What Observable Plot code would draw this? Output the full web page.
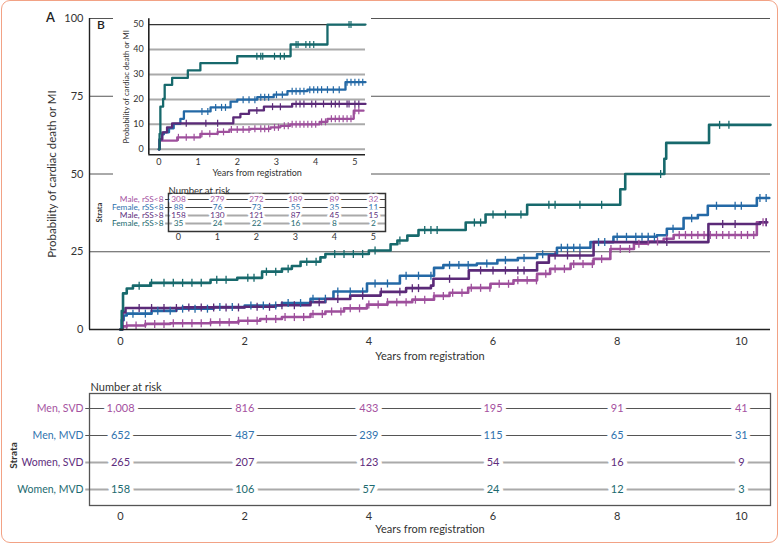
<!DOCTYPE html>
<html><head><meta charset="utf-8">
<script src="https://cdn.jsdelivr.net/npm/d3@7"></script>
<script src="https://cdn.jsdelivr.net/npm/@observablehq/plot@0.6"></script>
<style>
body{margin:0;background:#fff;}
#wrap{position:relative;width:780px;height:546px;overflow:hidden;font-family:Lato,"Open Sans",sans-serif;color:#333;background:#fff;}
.lab{position:absolute;font-family:Lato,sans-serif;color:#333;}
</style></head><body><div id="wrap"></div>
<script>
// ---------- DATA ----------
const mainStrata = ["Men, SVD", "Men, MVD", "Women, SVD", "Women, MVD"];
const insetStrata = ["Male, rSS<8", "Female, rSS<8", "Male, rSS>8", "Female, rSS>8"];
const seriesColors = ["#9e4f9c", "#2469a6", "#5b2a78", "#17696c"];
const labelColors = ["#a5529f", "#2f72ae", "#5e2d7d", "#1c6a70"];

// Panel A: cumulative probability (%) steps, [years, percent]
const mainMenSVD = [[0,0],[0.03,1.0],[0.1,1.3],[0.4,1.8],[0.8,2.0],[1.45,2.3],[1.9,2.8],[2.25,3.4],[2.6,4.0],[3.06,5.0],[3.3,5.8],[3.6,6.8],[3.97,8.0],[4.3,8.8],[4.7,9.6],[5.05,10.8],[5.3,11.8],[5.6,13.4],[5.96,14.7],[6.33,15.8],[6.71,17.9],[6.92,19.5],[7.25,21.1],[7.62,22.7],[7.89,25.9],[8.27,27.6],[8.5,28.3],[8.75,29.2],[8.91,30.4],[10.25,34.5],[10.42,34.5]];
const mainMenMVD = [[0,0],[0.02,3.0],[0.05,4.5],[0.1,5.1],[0.5,6.0],[0.9,6.7],[1.5,7.2],[2.0,7.7],[2.6,8.5],[3.06,9.9],[3.43,12.2],[3.97,14.8],[4.5,17.3],[5.05,19.8],[5.2,20.7],[5.74,21.2],[6.07,22.3],[6.4,23.0],[6.71,24.2],[7.03,26.3],[7.57,28.1],[7.94,29.8],[8.64,30.3],[8.8,32.4],[9.07,35.8],[9.3,36.8],[9.46,39.8],[10.25,42.3],[10.45,42.3]];
const mainWomenSVD = [[0,0],[0.03,5.5],[0.08,6.9],[1.0,7.1],[2.0,7.3],[2.5,7.8],[3.06,8.8],[3.3,9.8],[3.7,10.9],[4.19,12.1],[4.6,13.3],[5.0,14.1],[5.04,16.3],[5.61,19.0],[6.71,21.5],[6.9,23.8],[7.62,28.1],[9.47,33.9],[10.3,34.5],[10.41,34.5]];
const mainWomenMVD = [[0,0],[0.02,6.0],[0.04,11.6],[0.1,13.2],[0.2,14.1],[0.48,15.0],[1.45,16.0],[1.88,16.6],[2.28,18.6],[2.6,19.5],[2.76,20.4],[2.9,21.8],[3.22,23.2],[3.3,24.3],[4.0,25.4],[4.35,27.4],[4.46,28.6],[4.62,30.2],[4.8,32.0],[5.56,34.4],[5.88,37.0],[6.55,40.1],[8.05,45.1],[8.13,50.0],[8.76,54.9],[8.79,60.0],[9.48,65.8],[10.47,65.8]];

// censoring times (years)
const censorMenSVD = [0.1,0.25,0.4,0.55,0.7,0.85,1.0,1.15,1.3,1.45,1.6,1.75,1.9,2.05,2.2,2.35,2.5,2.65,2.8,2.95,3.1,3.25,3.4,3.55,3.7,3.85,4.0,4.15,4.3,4.45,4.6,4.75,4.9,5.05,5.2,5.35,5.5,5.65,5.8,5.95,6.1,6.25,6.4,6.55,6.7,6.85,7.0,7.15,7.3,7.45,7.6,7.75,7.9,8.05,8.2,8.35,8.5,8.65,8.8,9.0,9.1,9.2,9.3,9.4,9.5,9.6,9.7,9.8,9.9,10.0,10.1,10.2,10.35,10.4];
const censorMenMVD = [0.2,0.4,0.6,0.8,1.0,1.2,1.4,1.6,1.8,2.1,2.3,2.5,2.7,2.9,3.1,3.3,3.5,3.7,3.9,4.1,4.3,4.6,4.8,5.0,5.3,5.45,5.6,5.9,6.2,6.5,6.8,7.1,7.2,7.3,7.4,7.7,7.8,8.0,8.15,8.3,8.4,8.5,8.6,8.9,9.2,9.6,9.9,10.0,10.3,10.4];
const censorWomenSVD = [0.3,0.5,0.7,0.9,1.1,1.3,1.5,1.7,1.9,2.2,2.4,2.6,2.8,3.2,3.5,3.9,4.2,4.5,4.7,4.8,5.3,5.8,6.0,6.2,6.4,6.5,7.0,7.2,7.4,8.8,9.7,9.9,10.4];
const censorWomenMVD = [0.3,0.5,0.7,0.85,1.0,1.15,1.3,1.55,1.7,2.05,2.15,2.35,2.5,2.7,3.0,3.15,3.45,3.6,3.75,3.9,4.1,4.5,4.9,5.0,5.1,5.7,5.8,6.0,6.2,6.45,6.9,7.0,7.4,7.75,8.7,9.65,9.8];

// Panel B (inset)
const insetMaleLow = [[0,0],[0.02,3.5],[0.47,4.8],[1.06,6.2],[1.5,7.0],[1.8,7.9],[2.34,8.2],[2.85,8.8],[3.1,9.4],[3.35,10.0],[4.1,11.0],[4.3,12.2],[4.97,15.5],[5.22,15.5]];
const insetFemaleLow = [[0,0],[0.02,4.0],[0.08,6.0],[0.13,6.8],[0.26,8.4],[0.38,10.2],[0.55,12.2],[0.64,15.2],[1.32,16.8],[1.83,19.1],[2.0,19.9],[2.51,20.9],[2.93,21.9],[3.28,23.3],[3.79,23.9],[4.76,26.9],[5.27,26.9]];
const insetMaleHigh = [[0,0],[0.02,4.0],[0.09,6.8],[0.21,8.8],[0.34,10.4],[1.9,12.8],[2.08,14.2],[2.3,15.6],[2.68,17.1],[3.4,18.2],[5.27,18.2]];
const insetFemaleHigh = [[0,0],[0.02,6.2],[0.04,17.1],[0.11,20.2],[0.15,25.8],[0.34,28.6],[0.74,31.6],[1.06,34.5],[2.0,37.3],[3.36,42.0],[4.3,50.0],[5.27,50.0]];

const insetCensorMaleLow = [0.5,0.7,0.9,1.1,1.3,1.5,1.65,1.85,2.0,2.15,2.3,2.45,2.6,2.7,2.8,2.95,3.05,3.2,3.3,3.4,3.5,3.6,3.7,3.8,3.9,4.0,4.15,4.25,4.4,4.5,4.6,4.7,4.8,4.9,5.0,5.1];
const insetCensorFemaleLow = [1.1,1.25,1.45,1.6,1.7,2.15,2.3,2.45,2.6,2.7,2.8,3.0,3.15,3.4,3.5,3.6,3.7,3.85,3.95,4.05,4.15,4.3,4.45,4.6,4.8,4.9,5.0,5.1,5.2];
const insetCensorMaleHigh = [0.7,1.2,1.5,2.5,2.9,3.1,3.5,3.6,3.7,3.9,4.0,4.2,4.4,4.5,4.6,4.8,4.85,5.0,5.1];
const insetCensorFemaleHigh = [2.5,2.6,2.65,2.95,3.1,3.2,3.5,3.55,3.75,3.85,3.95,4.85,4.9];

// Number at risk
const mainRiskYears = [0, 2, 4, 6, 8, 10];
const riskMenSVD = ["1,008", "816", "433", "195", "91", "41"];
const riskMenMVD = ["652", "487", "239", "115", "65", "31"];
const riskWomenSVD = ["265", "207", "123", "54", "16", "9"];
const riskWomenMVD = ["158", "106", "57", "24", "12", "3"];
const insetRiskYears = [0, 1, 2, 3, 4, 5];
const riskMaleLow = ["308", "279", "272", "189", "89", "32"];
const riskFemaleLow = ["88", "76", "73", "55", "35", "11"];
const riskMaleHigh = ["158", "130", "121", "87", "45", "15"];
const riskFemaleHigh = ["35", "24", "22", "16", "8", "2"];

// ---------- BUILD ----------
function stepAt(pts, t) { let v = 0; for (const [x, y] of pts) if (x <= t) v = y; return v; }
function lines(names, series) { return series.flatMap((pts, i) => pts.map(([t, p]) => ({s: names[i], t, p}))); }
function censors(names, series, times) { return times.flatMap((ts, i) => ts.map(t => ({s: names[i], t, p: stepAt(series[i], t)}))); }
function risk(names, years, rows) { return rows.flatMap((r, i) => r.map((n, j) => ({s: names[i], t: years[j], n}))); }

const mainSeries = [mainMenSVD, mainMenMVD, mainWomenSVD, mainWomenMVD];
const insetSeries = [insetMaleLow, insetFemaleLow, insetMaleHigh, insetFemaleHigh];
const mainLineData = lines(mainStrata, mainSeries);
const mainCensorData = censors(mainStrata, mainSeries, [censorMenSVD, censorMenMVD, censorWomenSVD, censorWomenMVD]);
const insetLineData = lines(insetStrata, insetSeries);
const insetCensorData = censors(insetStrata, insetSeries, [insetCensorMaleLow, insetCensorFemaleLow, insetCensorMaleHigh, insetCensorFemaleHigh]);
const mainRiskData = risk(mainStrata, mainRiskYears, [riskMenSVD, riskMenMVD, riskWomenSVD, riskWomenMVD]);
const insetRiskData = risk(insetStrata, insetRiskYears, [riskMaleLow, riskFemaleLow, riskMaleHigh, riskFemaleHigh]);

const vbar = {draw(ctx, size) { const r = Math.sqrt(size / Math.PI); ctx.moveTo(0, -r); ctx.lineTo(0, r); }};
const baseStyle = (fs) => ({fontFamily: "Lato, sans-serif", fontSize: fs, color: "#333", background: "transparent", overflow: "visible"});

const wrap = document.getElementById("wrap");
function place(node, left, top) { node.style.position = "absolute"; node.style.left = left + "px"; node.style.top = top + "px"; wrap.appendChild(node); return node; }
function label(txt, left, top, css) { const d = document.createElement("div"); d.className = "lab"; d.textContent = txt; Object.assign(d.style, css || {}); place(d, left, top); return d; }

const mainX = [-0.5, 10.47];

// Panel A plot
const mainPlot = Plot.plot({
  width: 780, height: 370, marginTop: 18, marginBottom: 41, marginLeft: 89, marginRight: 10,
  style: baseStyle("11px"),
  x: {domain: mainX, ticks: mainRiskYears, tickFormat: "d", tickSize: 0, tickPadding: 8, label: null},
  y: {domain: [0, 100], ticks: [0, 25, 50, 75, 100], tickFormat: "d", tickSize: 0, tickPadding: 6, label: null},
  color: {domain: mainStrata, range: seriesColors},
  marks: [
    Plot.ruleY([25, 50, 75, 100], {stroke: "#555", strokeWidth: 1}),
    Plot.line(mainLineData, {x: "t", y: "p", z: "s", stroke: "s", curve: "step-after", strokeWidth: 2.6}),
    Plot.dot(mainCensorData, {x: "t", y: "p", stroke: "s", fill: "none", symbol: vbar, r: 4, strokeWidth: 1.3}),
    Plot.ruleX([mainX[0]], {stroke: "#222", strokeWidth: 1.4}),
    Plot.ruleY([0], {stroke: "#222", strokeWidth: 1.6}),
    Plot.text(["Years from registration"], {text: d => d, frameAnchor: "bottom", dy: 30, fontSize: 11, fill: "#333"}),
    Plot.text(["Probability of cardiac death or MI"], {text: d => d, frameAnchor: "left", textAnchor: "middle", dx: -37, rotate: -90, fontSize: 11.5, fill: "#333"})
  ]
});
place(mainPlot, 0, 0);

// white backing for inset
const bg = document.createElement("div");
Object.assign(bg.style, {width: "258px", height: "178px", background: "#fff"});
place(bg, 113, 8);

// Panel B inset plot
const insetX = [-0.255, 5.27];
const insetY = [-2.2, 52.3];
const insetPlot = Plot.plot({
  width: 280, height: 185, marginTop: 18.3, marginBottom: 30.7, marginLeft: 48.3, marginRight: 15,
  style: baseStyle("9px"),
  x: {domain: insetX, ticks: insetRiskYears, tickFormat: "d", tickSize: 0, tickPadding: 4, label: null},
  y: {domain: insetY, ticks: [0, 10, 20, 30, 40, 50], tickFormat: "d", tickSize: 0, tickPadding: 5, label: null},
  color: {domain: insetStrata, range: seriesColors},
  marks: [
    Plot.ruleY([0, 10, 20, 30, 40], {stroke: "#aaa", strokeWidth: 2}),
    Plot.ruleY([50], {stroke: "#333", strokeWidth: 1.2}),
    Plot.line(insetLineData, {x: "t", y: "p", z: "s", stroke: "s", curve: "step-after", strokeWidth: 2.3}),
    Plot.dot(insetCensorData, {x: "t", y: "p", stroke: "s", fill: "none", symbol: vbar, r: 3.5, strokeWidth: 1.2}),
    Plot.ruleX([insetX[0]], {stroke: "#222", strokeWidth: 1.6}),
    Plot.ruleY([insetY[0]], {stroke: "#222", strokeWidth: 1.6}),
    Plot.text(["Years from registration"], {text: d => d, frameAnchor: "bottom", dy: 21, fontSize: 9, fill: "#333"}),
    Plot.text(["Probability of cardiac death or MI"], {text: d => d, frameAnchor: "left", textAnchor: "middle", dx: -22, rotate: -90, fontSize: 7.8, fill: "#333"})
  ]
});
place(insetPlot, 100, 0);

// Inset number-at-risk table
const insetTX = [-0.256, 5.31];
const insetTable = Plot.plot({
  width: 400, height: 70, marginTop: 17, marginBottom: 15, marginLeft: 168, marginRight: 15,
  style: baseStyle("9px"),
  x: {domain: insetTX, ticks: insetRiskYears, tickFormat: "d", tickSize: 0, tickPadding: 2.5, label: null},
  y: {type: "point", domain: insetStrata, range: [22.3, 48], padding: 0, axis: null},
  color: {domain: insetStrata, range: labelColors},
  marks: [
    Plot.ruleY(insetStrata.slice(0, 2), {y: d => d, x1: -0.33, x2: insetTX[1], stroke: "#444", strokeWidth: 1}),
    Plot.ruleY(insetStrata.slice(2), {y: d => d, x1: -0.33, x2: insetTX[1], stroke: "#aaa", strokeWidth: 2}),
    Plot.frame({stroke: "#333", strokeWidth: 1.5}),
    Plot.text(insetRiskData, {x: "t", y: "s", text: "n", fill: "s", stroke: "white", strokeWidth: 5, paintOrder: "stroke", fontSize: 8.3}),
    Plot.text(insetStrata, {y: d => d, text: d => d, fill: d => d, frameAnchor: "left", textAnchor: "end", dx: -5, fontSize: 8.3}),
    Plot.text(["Number at risk"], {text: d => d, frameAnchor: "top-left", textAnchor: "start", dy: -6.3, fontSize: 9.5, fill: "#333"}),
    Plot.text(["Strata"], {text: d => d, frameAnchor: "left", textAnchor: "middle", dx: -69, rotate: -90, fontSize: 7.5, fontWeight: "bold", fill: "#333"})
  ]
});
place(insetTable, 0, 176);

// Main number-at-risk table
const mainTable = Plot.plot({
  width: 780, height: 176, marginTop: 23, marginBottom: 41, marginLeft: 89, marginRight: 10,
  style: baseStyle("11px"),
  x: {domain: mainX, ticks: mainRiskYears, tickFormat: "d", tickSize: 0, tickPadding: 7, label: null},
  y: {type: "point", domain: mainStrata, range: [37, 119], padding: 0, axis: null},
  color: {domain: mainStrata, range: labelColors},
  marks: [
    Plot.ruleY(mainStrata.slice(0, 2), {y: d => d, x1: -0.56, x2: mainX[1], stroke: "#555", strokeWidth: 1}),
    Plot.ruleY(mainStrata.slice(2), {y: d => d, x1: -0.56, x2: mainX[1], stroke: "#aaa", strokeWidth: 2.2}),
    Plot.frame({stroke: "#555", strokeWidth: 1.3}),
    Plot.text(mainRiskData, {x: "t", y: "s", text: "n", fill: "s", stroke: "white", strokeWidth: 8, paintOrder: "stroke", fontSize: 11}),
    Plot.text(mainStrata, {y: d => d, text: d => d, fill: d => d, frameAnchor: "left", textAnchor: "end", dx: -6, fontSize: 10.5}),
    Plot.text(["Number at risk"], {text: d => d, frameAnchor: "top-left", textAnchor: "start", dy: -10, dx: 1, fontSize: 11, fill: "#333"}),
    Plot.text(["Strata"], {text: d => d, frameAnchor: "left", textAnchor: "middle", dx: -76, dy: 6, rotate: -90, fontSize: 10, fontWeight: "bold", fill: "#333"}),
    Plot.text(["Years from registration"], {text: d => d, frameAnchor: "bottom", dy: 27, fontSize: 11, fill: "#333"})
  ]
});
place(mainTable, 0, 370);

label("A", 46, 9, {fontSize: "13px", fontWeight: "600", color: "#222"});
label("B", 97, 17, {fontSize: "12px", fontWeight: "600", color: "#222"});

// outer rounded border
const border = document.createElement("div");
Object.assign(border.style, {width: "775px", height: "541px", border: "1.5px solid #f2a285", borderRadius: "9px", pointerEvents: "none"});
place(border, 1, 0);
</script></body></html>
